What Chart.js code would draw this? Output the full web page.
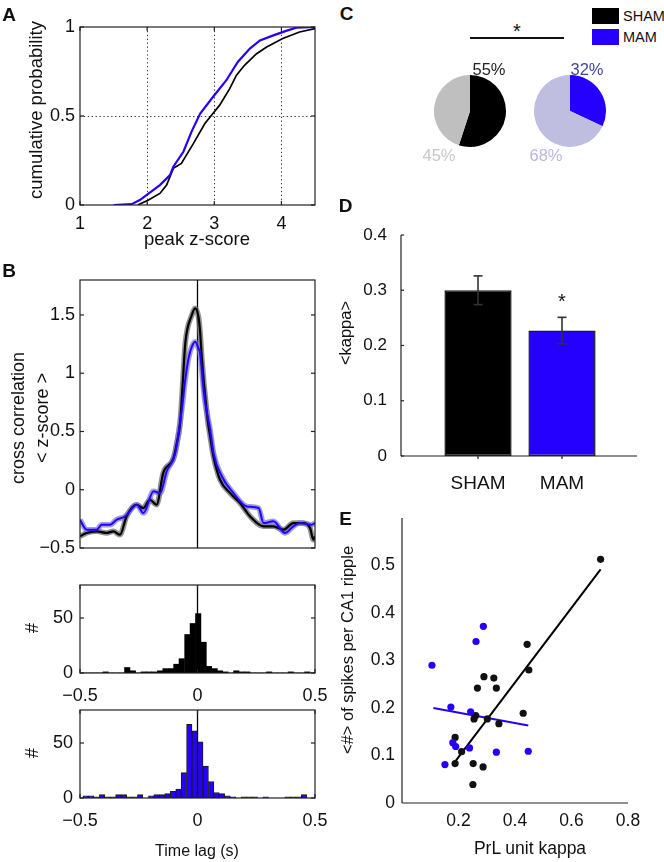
<!DOCTYPE html>
<html><head><meta charset="utf-8">
<script src="https://cdn.jsdelivr.net/npm/chart.js@4"></script>
<style>
html,body{margin:0;padding:0;background:#fff;}
#root{position:relative;width:664px;height:862px;overflow:hidden;font-family:'Liberation Sans',Arial,Helvetica,sans-serif;color:#111;}
canvas{position:absolute;}
.t{position:absolute;white-space:nowrap;line-height:1;transform:translate(-50%,-50%);}
.r{transform:translate(-50%,-50%) rotate(-90deg);text-align:center;}
.sq{position:absolute;}
</style></head><body><div id="root"></div>
<script>
// ---------------- DATA ----------------
const groupNames = ['SHAM', 'MAM'];
const colSham = '#000000', colMam = '#2600ff';

// Panel A: cumulative distributions of peak z-score
const aTicksX = [1, 2, 3, 4];
const aTicksY = [0, 0.5, 1];
const cdfShamX = [1.86,2.02,2.19,2.29,2.39,2.51,2.69,2.86,2.98,3.08,3.23,3.33,3.45,3.63,3.78,4.02,4.27,4.5];
const cdfShamY = [0,0.028,0.065,0.112,0.206,0.234,0.346,0.458,0.514,0.561,0.654,0.729,0.785,0.850,0.888,0.935,0.972,0.991];
const cdfMamX = [1.5,1.77,1.89,1.99,2.19,2.34,2.39,2.54,2.66,2.79,2.98,3.18,3.35,3.53,3.68,3.88,4.07,4.22,4.5];
const cdfMamY = [0,0.005,0.028,0.056,0.112,0.168,0.215,0.299,0.411,0.514,0.607,0.701,0.804,0.879,0.925,0.953,0.978,0.996,1];

// Panel B: cross correlation
const bTicksY = [-0.5, 0, 0.5, 1, 1.5];
const xcShamLag = [-0.5,-0.472,-0.429,-0.387,-0.358,-0.330,-0.302,-0.260,-0.231,-0.203,-0.174,-0.146,-0.102,-0.088,-0.074,-0.062,-0.052,-0.024,-0.010,0.004,0.011,0.018,0.026,0.033,0.043,0.054,0.068,0.096,0.139,0.181,0.224,0.281,0.323,0.366,0.408,0.451,0.479,0.493,0.5];
const xcShamZ = [-0.40,-0.371,-0.357,-0.371,-0.357,-0.386,-0.229,-0.129,-0.157,-0.086,-0.129,0.143,0.271,0.40,0.571,0.943,1.257,1.50,1.557,1.486,1.357,1.143,0.943,0.80,0.60,0.457,0.286,0.086,-0.029,-0.114,-0.229,-0.314,-0.314,-0.343,-0.286,-0.286,-0.329,-0.429,-0.40];
const xcMamLag = [-0.5,-0.472,-0.429,-0.408,-0.372,-0.344,-0.308,-0.258,-0.230,-0.187,-0.159,-0.131,-0.095,-0.067,-0.052,-0.038,-0.024,-0.010,0.004,0.011,0.026,0.033,0.054,0.068,0.104,0.153,0.210,0.260,0.281,0.323,0.372,0.408,0.437,0.486,0.5];
const xcMamZ = [-0.257,-0.343,-0.343,-0.300,-0.300,-0.257,-0.229,-0.129,-0.200,-0.014,-0.029,0.157,0.314,0.686,0.943,1.129,1.229,1.271,1.214,1.171,0.857,0.743,0.514,0.314,0.114,-0.029,-0.143,-0.157,-0.286,-0.271,-0.371,-0.314,-0.286,-0.300,-0.286];

// Histograms of peak lag
const histTicksX = [-0.5, 0, 0.5];
const histTicksY = [0, 50];
const histShamCenters = [-0.484,-0.461,-0.438,-0.415,-0.391,-0.368,-0.345,-0.322,-0.299,-0.275,-0.252,-0.229,-0.206,-0.183,-0.159,-0.136,-0.113,-0.090,-0.067,-0.043,-0.020,0.003,0.026,0.049,0.073,0.096,0.119,0.142,0.165,0.189,0.212,0.235,0.258,0.281,0.305,0.328,0.351,0.374,0.397,0.421,0.444,0.467,0.490];
const histShamCounts = [0,0,0,0,1,0,0,0,5,2,0,1,1,1,2,4,4,8,13,35,45,54,28,6,4,2,1,0,2,1,1,0,0,0,1,0,0,0,1,0,0,1,0];
const histMamCenters = [-0.499,-0.476,-0.453,-0.430,-0.406,-0.383,-0.360,-0.337,-0.313,-0.290,-0.267,-0.244,-0.220,-0.197,-0.174,-0.151,-0.128,-0.104,-0.081,-0.058,-0.035,-0.012,0.012,0.035,0.058,0.081,0.104,0.128,0.151,0.174,0.197,0.220,0.244,0.267,0.290,0.313,0.337,0.360,0.383,0.406,0.430,0.453,0.476,0.499];
const histMamCounts = [0,2,2,1,3,1,1,3,3,1,1,3,0,2,3,3,4,6,8,23,67,61,51,29,15,5,4,2,1,0,1,1,1,0,1,0,0,0,1,1,1,3,0,0];

// Panel C: proportions (%)
const pieSham = [55, 45];
const pieMam = [32, 68];

// Panel D: mean kappa
const dTicksY = [0, 0.1, 0.2, 0.3, 0.4];
const kappaMean = [0.300, 0.227];
const kappaSem = [0.026, 0.024];

// Panel E: spikes per ripple vs kappa
const eTicksX = [0.2, 0.4, 0.6, 0.8];
const eTicksY = [0, 0.1, 0.2, 0.3, 0.4, 0.5];
const shamKappa = [0.703,0.443,0.449,0.290,0.325,0.267,0.334,0.429,0.261,0.255,0.302,0.343,0.188,0.211,0.188,0.252,0.287,0.251];
const shamSpikes = [0.513,0.334,0.280,0.266,0.263,0.242,0.242,0.189,0.184,0.177,0.177,0.167,0.138,0.108,0.083,0.083,0.076,0.039];
const mamKappa = [0.288,0.262,0.106,0.173,0.243,0.180,0.190,0.239,0.334,0.447,0.152];
const mamSpikes = [0.372,0.340,0.290,0.202,0.192,0.127,0.119,0.116,0.107,0.109,0.081];
const shamFitX = [0.188, 0.703], shamFitY = [0.087, 0.492];
const mamFitX = [0.111, 0.447], mamFitY = [0.200, 0.163];

// ---------------- HELPERS ----------------
Chart.defaults.font.family = "'Liberation Sans', Arial, Helvetica, sans-serif";
Chart.defaults.color = '#111';
Chart.defaults.animation = false;
Chart.defaults.responsive = false;
Chart.defaults.maintainAspectRatio = false;
Chart.defaults.devicePixelRatio = 1;
Chart.defaults.events = [];
Chart.defaults.plugins.legend.display = false;
Chart.defaults.plugins.tooltip.enabled = false;

const root = document.getElementById('root');
const zip = (xs, ys) => xs.map((x, i) => ({x, y: ys[i]}));
const fmt = v => (v < 0 ? '\u2212' : '') + String(Math.abs(+(+v).toFixed(3)));

function linScale(min, max, ticks, o) {
  return {
    type: 'linear', min, max, offset: false,
    grid: {display: false, drawTicks: false},
    border: {display: false},
    afterBuildTicks: s => { s.ticks = ticks.map(v => ({value: v})); },
    afterFit: s => {
      if (o.w !== undefined) s.width = o.w;
      if (o.h !== undefined) s.height = o.h;
      s.paddingLeft = 0; s.paddingRight = 0; s.paddingTop = 0; s.paddingBottom = 0;
    },
    ticks: {display: o.labels !== false, autoSkip: false, maxRotation: 0, minRotation: 0,
      padding: o.pad === undefined ? 6 : o.pad, font: {size: o.fs || 18}, color: '#111',
      callback: o.cb || fmt}
  };
}
function seg(ctx, x1, y1, x2, y2) { ctx.beginPath(); ctx.moveTo(x1, y1); ctx.lineTo(x2, y2); ctx.stroke(); }

const framePlugin = {
  id: 'frame',
  beforeDatasetsDraw(chart, args, o) {
    const ctx = chart.ctx, a = chart.chartArea, xs = chart.scales.x, ys = chart.scales.y;
    ctx.save();
    ctx.setLineDash([1.3, 2.6]); ctx.lineWidth = 1; ctx.strokeStyle = '#333';
    (o.gridX || []).forEach(v => { const p = Math.round(xs.getPixelForValue(v)) + 0.5; seg(ctx, p, a.top, p, a.bottom); });
    (o.gridY || []).forEach(v => { const p = Math.round(ys.getPixelForValue(v)) + 0.5; seg(ctx, a.left, p, a.right, p); });
    ctx.setLineDash([]);
    if (o.zeroLine) { const p = xs.getPixelForValue(0); ctx.lineWidth = 1.3; ctx.strokeStyle = '#000'; seg(ctx, p, a.top, p, a.bottom); }
    ctx.restore();
  },
  afterDraw(chart, args, o) {
    const ctx = chart.ctx, a = chart.chartArea, xs = chart.scales.x, ys = chart.scales.y;
    ctx.save();
    ctx.strokeStyle = '#222'; ctx.lineWidth = o.lw || 1.2;
    if (o.box) ctx.strokeRect(a.left, a.top, a.right - a.left, a.bottom - a.top);
    else { seg(ctx, a.left, a.top, a.left, a.bottom); seg(ctx, a.left, a.bottom, a.right, a.bottom); }
    const L = o.tick === undefined ? 4 : o.tick;
    if (L > 0) {
      ys.ticks.forEach(t => { const p = ys.getPixelForValue(t.value); seg(ctx, a.left, p, a.left + L, p); if (o.box) seg(ctx, a.right, p, a.right - L, p); });
      if (o.xTicks) xs.ticks.forEach(t => { const p = xs.getPixelForValue(t.value); seg(ctx, p, a.bottom, p, a.bottom + (o.xOut ? L : -L)); if (o.box) seg(ctx, p, a.top, p, a.top + L); });
    }
    ctx.restore();
  }
};

const errPlugin = {
  id: 'err',
  afterDatasetsDraw(chart, args, o) {
    const ctx = chart.ctx, ys = chart.scales.y, meta = chart.getDatasetMeta(0);
    ctx.save(); ctx.strokeStyle = '#333'; ctx.lineWidth = 1.6;
    o.mean.forEach((m, i) => {
      const x = meta.data[i].x, yt = ys.getPixelForValue(m + o.sem[i]), yb = ys.getPixelForValue(m - o.sem[i]);
      seg(ctx, x, yb, x, yt); seg(ctx, x - 4.5, yt, x + 4.5, yt); seg(ctx, x - 4.5, yb, x + 4.5, yb);
    });
    ctx.restore();
  }
};

function mk(left, top, w, h, config) {
  const c = document.createElement('canvas');
  c.width = w; c.height = h; c.style.left = left + 'px'; c.style.top = top + 'px';
  c.style.width = w + 'px'; c.style.height = h + 'px';
  root.appendChild(c);
  return new Chart(c, config);
}
function txt(s, cx, cy, size, o) {
  o = o || {};
  const d = document.createElement('div');
  d.className = 't' + (o.rot ? ' r' : '');
  d.innerHTML = s;
  d.style.left = cx + 'px'; d.style.top = cy + 'px'; d.style.fontSize = size + 'px';
  if (o.bold) d.style.fontWeight = 'bold';
  if (o.color) d.style.color = o.color;
  if (o.lh) d.style.lineHeight = o.lh + 'px';
  if (o.left) d.style.transform = 'translate(0,-50%)';
  root.appendChild(d);
  return d;
}
function box(x, y, w, h, col) {
  const d = document.createElement('div'); d.className = 'sq';
  Object.assign(d.style, {left: x + 'px', top: y + 'px', width: w + 'px', height: h + 'px', background: col});
  root.appendChild(d);
}

// ---------------- PANEL A ----------------
mk(0, 0, 330, 260, {
  type: 'scatter',
  data: {datasets: [
    {data: zip(cdfMamX, cdfMamY), borderColor: colMam, borderWidth: 2.2, showLine: true, pointRadius: 0},
    {data: zip(cdfShamX, cdfShamY), borderColor: colSham, borderWidth: 1.7, showLine: true, pointRadius: 0}
  ]},
  options: {
    layout: {padding: {left: 0, top: 27, right: 15, bottom: 0}},
    scales: {x: linScale(1, 4.5, aTicksX, {h: 55, pad: 8}), y: linScale(0, 1, aTicksY, {w: 80, pad: 5})},
    plugins: {frame: {box: true, gridX: aTicksX.slice(1), gridY: [0.5], xTicks: true}}
  },
  plugins: [framePlugin]
});

// ---------------- PANEL B (cross correlation) ----------------
mk(0, 262, 330, 300, {
  type: 'scatter',
  data: {datasets: [
    {data: zip(xcMamLag, xcMamZ), borderColor: colMam, borderWidth: 2, showLine: true, pointRadius: 0, cubicInterpolationMode: 'monotone'},
    {data: zip(xcShamLag, xcShamZ), borderColor: colSham, borderWidth: 2.2, showLine: true, pointRadius: 0, cubicInterpolationMode: 'monotone'},
    {data: zip(xcMamLag, xcMamZ), borderColor: 'rgba(120,120,210,0.7)', borderWidth: 5.5, showLine: true, pointRadius: 0, cubicInterpolationMode: 'monotone'},
    {data: zip(xcShamLag, xcShamZ), borderColor: 'rgba(110,110,110,0.75)', borderWidth: 5.5, showLine: true, pointRadius: 0, cubicInterpolationMode: 'monotone'}
  ]},
  options: {
    layout: {padding: {left: 0, top: 18, right: 15, bottom: 0}},
    scales: {x: linScale(-0.5, 0.5, histTicksX, {h: 14, labels: false}), y: linScale(-0.5, 1.8, bTicksY, {w: 80, pad: 5})},
    plugins: {frame: {box: true, zeroLine: true, xTicks: false}}
  },
  plugins: [framePlugin]
});

// ---------------- HISTOGRAMS ----------------
function hist(top, h, chartTop, chartBottom, centers, counts, fill, border, bw) {
  mk(0, top, 330, h, {
    type: 'bar',
    data: {datasets: [{data: zip(centers, counts), backgroundColor: fill, borderColor: border, borderWidth: bw,
      barPercentage: 1, categoryPercentage: 1, borderSkipped: false}]},
    options: {
      layout: {padding: {left: 0, top: chartTop, right: 15, bottom: 0}},
      scales: {x: linScale(-0.5, 0.5, histTicksX, {h: h - chartBottom, pad: 12}), y: linScale(0, 80, histTicksY, {w: 80, pad: 7})},
      plugins: {frame: {box: true, zeroLine: true, xTicks: true}}
    },
    plugins: [framePlugin]
  });
}
hist(570, 140, 15, 103, histShamCenters, histShamCounts, colSham, colSham, 0);
hist(700, 140, 10, 98, histMamCenters, histMamCounts, colMam, '#1a1a1a', 1);

// ---------------- PANEL C (pies) ----------------
function pie(left, top, vals, cols) {
  mk(left, top, 72, 72, {
    type: 'pie',
    data: {labels: groupNames, datasets: [{data: vals, backgroundColor: cols, borderWidth: 0}]},
    options: {layout: {padding: 0}}
  });
}
pie(434, 75, pieSham, [colSham, '#bfbfbf']);
pie(534, 75, pieMam, [colMam, '#c0bee0']);

// ---------------- PANEL D (bars) ----------------
const dPos = groupNames.map((g, i) => i + 1);
mk(330, 180, 334, 320, {
  type: 'bar',
  data: {datasets: [{data: zip(dPos, kappaMean), backgroundColor: [colSham, colMam], borderColor: '#1a1a1a', borderWidth: 1.5,
    barPercentage: 0.8, categoryPercentage: 1, borderSkipped: false}]},
  options: {
    layout: {padding: {left: 0, top: 55, right: 27, bottom: 0}},
    scales: {
      x: linScale(0.083, 2.893, dPos, {h: 44, pad: 16, fs: 19, cb: v => groupNames[Math.round(v) - 1]}),
      y: linScale(0, 0.4, dTicksY, {w: 71, pad: 14, fs: 17})
    },
    plugins: {frame: {box: false, xTicks: true, xOut: true, tick: 3}, err: {mean: kappaMean, sem: kappaSem}}
  },
  plugins: [framePlugin, errPlugin]
});

// ---------------- PANEL E (scatter) ----------------
mk(330, 500, 334, 362, {
  type: 'scatter',
  data: {datasets: [
    {data: zip(mamKappa, mamSpikes), backgroundColor: colMam, borderWidth: 0, pointRadius: 3.6},
    {data: zip(shamKappa, shamSpikes), backgroundColor: '#111', borderWidth: 0, pointRadius: 3.6},
    {data: zip(shamFitX, shamFitY), borderColor: colSham, borderWidth: 2, showLine: true, pointRadius: 0},
    {data: zip(mamFitX, mamFitY), borderColor: colMam, borderWidth: 2, showLine: true, pointRadius: 0}
  ]},
  options: {
    layout: {padding: {left: 0, top: 18, right: 36, bottom: 0}},
    scales: {x: linScale(0, 0.8, eTicksX, {h: 59, pad: 8, fs: 17.5}), y: linScale(0, 0.6, eTicksY, {w: 72, pad: 7, fs: 17.5})},
    plugins: {frame: {box: false, xTicks: false, tick: 0}}
  },
  plugins: [framePlugin]
});

// ---------------- TEXT ----------------
txt('A', 9, 13.5, 19, {bold: true});
txt('B', 9, 270, 19, {bold: true});
txt('C', 346.5, 12.5, 19, {bold: true});
txt('D', 345.5, 205, 19, {bold: true});
txt('E', 345.5, 517.5, 19, {bold: true});

txt('cumulative probability', 36, 110, 18.5, {rot: true});
txt('peak z-score', 197, 239, 18.5);
txt('cross correlation<br>&lt; z-score &gt;', 30, 418, 18, {rot: true, lh: 24});
txt('#', 32, 628, 18, {rot: true});
txt('#', 32, 753, 18, {rot: true});
txt('Time lag (s)', 197, 851, 16);

box(470, 36.5, 94, 2, '#111');
txt('*', 517, 30.5, 20);
box(592, 8, 27, 16, colSham);
box(592, 29, 27, 16, colMam);
txt(groupNames[0], 623, 16, 14.5, {left: true});
txt(groupNames[1], 623, 37, 14.5, {left: true});
txt(pieSham[0] + '%', 489, 69, 16.5, {color: '#222'});
txt(pieSham[1] + '%', 439, 155, 16.5, {color: '#c8c8c8'});
txt(pieMam[0] + '%', 587, 69, 16.5, {color: '#44449a'});
txt(pieMam[1] + '%', 546, 155, 16.5, {color: '#b8b6de'});

txt('&lt;kappa&gt;', 345, 333, 16.5, {rot: true});
txt('*', 562, 300.5, 20);

txt('&lt;#&gt; of spikes per CA1 ripple', 347, 650, 16.5, {rot: true});
txt('PrL unit kappa', 530, 849, 17.5);
</script></body></html>
